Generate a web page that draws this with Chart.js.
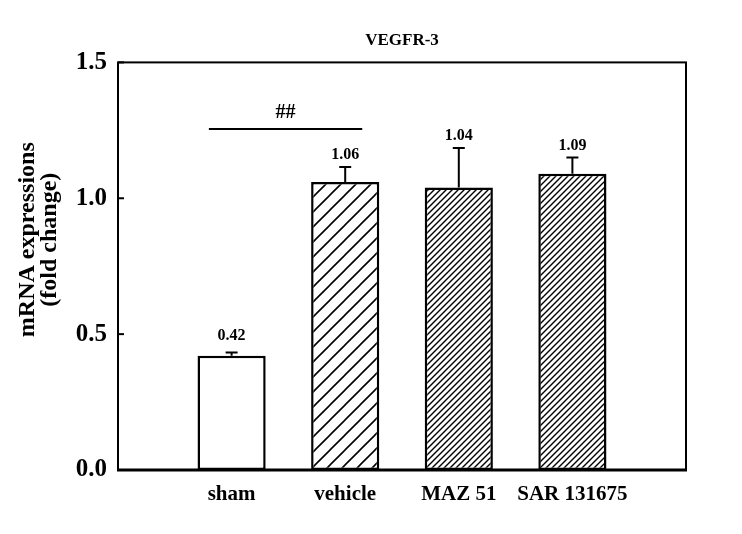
<!DOCTYPE html>
<html>
<head>
<meta charset="utf-8">
<script src="https://cdn.jsdelivr.net/npm/chart.js@4.4.1/dist/chart.umd.min.js"></script>
<style>
  body { margin: 0; background: #fff; }
  #wrap { width: 742px; height: 534px; }
</style>
</head>
<body>
<div id="wrap"><canvas id="vegfrChart" width="742" height="534"></canvas></div>
<script>
const groups = ['sham', 'vehicle', 'MAZ 51', 'SAR 131675'];
const meanValues = [0.42, 1.06, 1.04, 1.09];
const errorValues = [0.012, 0.055, 0.145, 0.06];
const valueLabels = ['0.42', '1.06', '1.04', '1.09'];
const hatchStyles = ['none', 'sparse', 'dense', 'dense'];
const yTicks = [0.0, 0.5, 1.0, 1.5];
const sigPair = ['sham', 'vehicle'];
const sigLineValue = 1.255;
const sigText = '##';

const SERIF = "'Liberation Serif', 'Times New Roman', serif";

// blank slot on each side so the bars sit where the original puts them
const xLabels = [''].concat(groups, ['']);
const barData = [null].concat(meanValues, [null]);

function makeHatch(size, width) {
  const c = document.createElement('canvas');
  c.width = size;
  c.height = size;
  const g = c.getContext('2d');
  g.fillStyle = '#fff';
  g.fillRect(0, 0, size, size);
  g.strokeStyle = '#000';
  g.lineWidth = width;
  g.beginPath();
  g.moveTo(-2, 2); g.lineTo(2, -2);
  g.moveTo(0, size); g.lineTo(size, 0);
  g.moveTo(size - 2, size + 2); g.lineTo(size + 2, size - 2);
  g.stroke();
  return g.createPattern(c, 'repeat');
}

const ctx = document.getElementById('vegfrChart').getContext('2d');
const fills = {
  none: '#fff',
  sparse: makeHatch(15, 1.6),
  dense: makeHatch(6, 1.4)
};
const barFills = [null].concat(hatchStyles.map((h) => fills[h]), [null]);

const decorPlugin = {
  id: 'decor',
  afterDatasetsDraw(chart) {
    const c = chart.ctx;
    const area = chart.chartArea;
    const y = chart.scales.y;
    const bars = chart.getDatasetMeta(0).data;
    c.save();

    // frame
    c.strokeStyle = '#000';
    c.lineWidth = 2;
    c.strokeRect(area.left, area.top, area.right - area.left, area.bottom - area.top);
    c.lineWidth = 3;
    c.beginPath();
    c.moveTo(area.left - 1, area.bottom);
    c.lineTo(area.right + 1, area.bottom);
    c.stroke();

    // inside tick marks on the y axis
    c.lineWidth = 2;
    yTicks.forEach((t) => {
      const py = y.getPixelForValue(t);
      c.beginPath();
      c.moveTo(area.left, py);
      c.lineTo(area.left + 6, py);
      c.stroke();
    });

    // error bars (upper only) and value labels
    c.font = 'bold 16px ' + SERIF;
    c.fillStyle = '#000';
    c.textAlign = 'center';
    c.textBaseline = 'middle';
    groups.forEach((g, i) => {
      const bar = bars[i + 1];
      const top = y.getPixelForValue(meanValues[i]);
      const cap = y.getPixelForValue(meanValues[i] + errorValues[i]);
      c.lineWidth = 2;
      c.beginPath();
      c.moveTo(bar.x, top);
      c.lineTo(bar.x, cap);
      c.moveTo(bar.x - 6, cap);
      c.lineTo(bar.x + 6, cap);
      c.stroke();
      c.fillText(valueLabels[i], bar.x, cap - (i === 0 ? 17 : 12));
    });

    // significance line
    const a = bars[groups.indexOf(sigPair[0]) + 1];
    const b = bars[groups.indexOf(sigPair[1]) + 1];
    const x1 = a.x - a.width / 3;
    const x2 = b.x + b.width / 4;
    const ly = y.getPixelForValue(sigLineValue);
    c.lineWidth = 2;
    c.beginPath();
    c.moveTo(x1, ly);
    c.lineTo(x2, ly);
    c.stroke();
    c.font = 'bold 20px ' + SERIF;
    c.fillText(sigText, (x1 + x2) / 2, ly - 16);

    // y axis title, two lines
    c.font = 'bold 24px ' + SERIF;
    const cy = area.top + (area.bottom - area.top) * 0.435;
    ['mRNA expressions', '(fold change)'].forEach((line, k) => {
      c.save();
      c.translate(28 + k * 22, cy);
      c.rotate(-Math.PI / 2);
      c.fillText(line, 0, 0);
      c.restore();
    });

    c.restore();
  }
};

new Chart(ctx, {
  type: 'bar',
  data: {
    labels: xLabels,
    datasets: [{
      label: 'VEGFR-3',
      data: barData,
      backgroundColor: barFills,
      borderColor: '#000',
      borderWidth: 2.5,
      borderSkipped: false,
      categoryPercentage: 0.6,
      barPercentage: 1.0
    }]
  },
  options: {
    responsive: false,
    animation: false,
    layout: {
      padding: { left: 0, right: 56, top: 0, bottom: 0 }
    },
    plugins: {
      legend: { display: false },
      tooltip: { enabled: false },
      title: {
        display: true,
        text: 'VEGFR-3',
        fullSize: false,
        color: '#000',
        font: { family: SERIF, size: 17, weight: 'bold' },
        padding: { top: 30, bottom: 12 }
      }
    },
    scales: {
      x: {
        type: 'category',
        offset: false,
        grid: { display: false },
        border: { display: false },
        ticks: {
          color: '#000',
          padding: 4,
          autoSkip: false,
          maxRotation: 0,
          font: { family: SERIF, size: 21, weight: 'bold' }
        },
        afterFit(scale) { scale.height = 64; }
      },
      y: {
        min: 0,
        max: 1.5,
        grid: { display: false },
        border: { display: false },
        ticks: {
          stepSize: 0.5,
          color: '#000',
          padding: 3,
          font: { family: SERIF, size: 25, weight: 'bold' },
          callback: (v) => v.toFixed(1)
        },
        afterFit(scale) { scale.width = 118; }
      }
    }
  },
  plugins: [decorPlugin]
});
</script>
</body>
</html>
